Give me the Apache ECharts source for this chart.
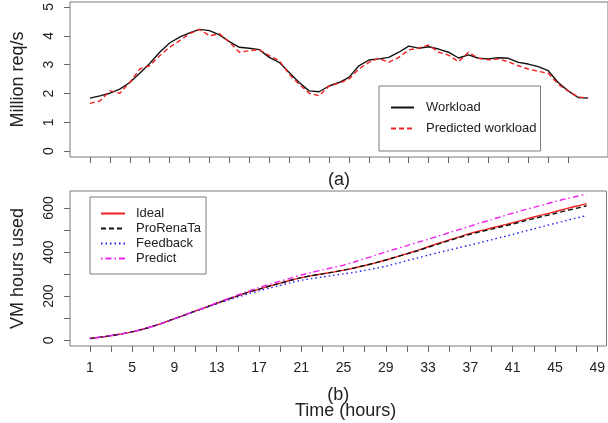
<!DOCTYPE html>
<html>
<head>
<meta charset="utf-8">
<script src="https://cdn.jsdelivr.net/npm/echarts@6/dist/echarts.min.js"></script>
<style>
html,body{margin:0;padding:0;background:#fff;}
#c{width:608px;height:423px;}
</style>
</head>
<body>
<div id="c"></div>
<script>
// ---- Panel (a): workload (million req/s) ----
var workloadSteps = [0,1,2,3,4,5,6,7,8,9,10,11,12,13,14,15,16,17,18,19,20,21,22,23,24,25,26,27,28,29,30,31,32,33,34,35,36,37,38,39,40,41,42,43,44,45,46,47,48,49,50];
var workload = [1.84,1.92,2.01,2.15,2.38,2.70,3.04,3.43,3.75,3.95,4.10,4.22,4.18,4.03,3.80,3.60,3.57,3.52,3.25,3.08,2.73,2.38,2.09,2.06,2.26,2.38,2.56,2.96,3.16,3.20,3.25,3.43,3.64,3.57,3.62,3.54,3.43,3.23,3.34,3.22,3.20,3.24,3.22,3.08,3.02,2.93,2.79,2.38,2.09,1.86,1.84];
var predictedWorkload = [1.66,1.74,2.09,2.01,2.38,2.85,2.96,3.31,3.60,3.83,4.07,4.22,4.00,4.07,3.78,3.43,3.48,3.52,3.31,3.14,2.67,2.32,2.01,1.92,2.26,2.36,2.50,2.85,3.08,3.22,3.08,3.25,3.51,3.57,3.68,3.43,3.33,3.10,3.43,3.22,3.17,3.20,3.10,2.96,2.85,2.77,2.70,2.32,2.09,1.88,1.84];
var topXTicks = [0,2,4,6,8,10,12,14,16,18,20,22,24,26,28,30,32,34,36,38,40,42,44,46,48];
var topYTicks = [0,1,2,3,4,5];

// ---- Panel (b): cumulative VM hours ----
var hours = [1,2,3,4,5,6,7,8,9,10,11,12,13,14,15,16,17,18,19,20,21,22,23,24,25,26,27,28,29,30,31,32,33,34,35,36,37,38,39,40,41,42,43,44,45,46,47,48];
var ideal = [8,14,21,29,38,50,64,80,98,115,133,150,168,185,202,218,232,246,259,272,284,293,301,309,318,328,339,351,364,378,393,408,424,440,455,470,485,497,509,521,533,546,559,571,583,596,608,620];
var proRenaTa = [8,14,21,29,38,50,64,80,98,115,133,150,168,185,202,218,232,246,259,272,284,293,301,309,318,328,339,351,364,378,392,406,422,437,452,467,481,493,504,516,527,540,552,564,575,587,598,610];
var feedback = [8,14,21,29,38,50,64,80,97,114,131,148,165,181,196,211,224,237,249,261,272,280,287,294,301,308,317,326,336,348,361,373,386,398,409,421,432,444,456,468,480,493,505,518,530,542,554,566];
var predict = [8,14,21,29,38,50,64,80,98,115,133,151,170,188,206,223,239,254,268,282,296,308,319,330,341,355,370,385,401,415,429,444,458,473,488,503,518,533,547,562,576,590,603,616,629,641,652,663];
var bottomXTicks = [1,3,5,7,9,11,13,15,17,19,21,23,25,27,29,31,33,35,37,39,41,43,45,47,49];
var bottomXLabels = [1,5,9,13,17,21,25,29,33,37,41,45,49];
var bottomYTicks = [0,100,200,300,400,500,600];
var bottomYLabels = [0,200,400,600];

function pairs(xs, ys){ return ys.map(function(v,i){ return [xs[i], v]; }); }

var FONT = '"Liberation Sans", Arial, Helvetica, sans-serif';
var tickColor = '#666';
var textColor = '#222';
var hiddenAxisLine = {show: false, onZero: false};

var chart = echarts.init(document.getElementById('c'), null, {renderer:'canvas'});
chart.setOption({
  animation: false,
  backgroundColor: '#fff',
  textStyle: {fontFamily: FONT},
  title: {
    text: 'Time (hours)', left: 295, top: 402, padding: 0,
    textStyle: {fontSize: 18, fontWeight: 'normal', color: textColor, fontFamily: FONT}
  },
  grid: [
    {left: 70, right: 0, top: 2, height: 155, show: true, borderColor: '#7a7a7a', borderWidth: 1, containLabel: false},
    {left: 70, right: 0, top: 191, height: 155, show: true, borderColor: '#7a7a7a', borderWidth: 1, containLabel: false}
  ],
  xAxis: [
    {type: 'value', gridIndex: 0, min: -2, max: 52,
     name: '(a)', nameLocation: 'middle', nameGap: 14,
     nameTextStyle: {fontSize: 18, color: textColor, fontFamily: FONT},
     axisLine: hiddenAxisLine, splitLine: {show: false},
     axisTick: {show: true, inside: false, length: 6, lineStyle: {color: tickColor}, customValues: topXTicks},
     axisLabel: {show: false}},
    {type: 'value', gridIndex: 1, min: -0.88, max: 49.88,
     name: '(b)', nameLocation: 'middle', nameGap: 40,
     nameTextStyle: {fontSize: 18, color: textColor, fontFamily: FONT},
     axisLine: hiddenAxisLine, splitLine: {show: false},
     axisTick: {show: true, inside: false, length: 6, lineStyle: {color: tickColor}, customValues: bottomXTicks},
     axisLabel: {show: true, margin: 15, fontSize: 14, color: textColor, fontFamily: FONT, customValues: bottomXLabels}}
  ],
  yAxis: [
    {type: 'value', gridIndex: 0, min: -0.2, max: 5.17,
     name: 'Million req/s', nameLocation: 'middle', nameGap: 43,
     nameTextStyle: {fontSize: 18, color: textColor, fontFamily: FONT},
     axisLine: hiddenAxisLine, splitLine: {show: false},
     axisTick: {show: true, inside: false, length: 6, lineStyle: {color: tickColor}, customValues: topYTicks},
     axisLabel: {show: true, rotate: 90, margin: 14, fontSize: 14, color: textColor, fontFamily: FONT, customValues: topYTicks}},
    {type: 'value', gridIndex: 1, min: -26, max: 677,
     name: 'VM hours used', nameLocation: 'middle', nameGap: 43,
     nameTextStyle: {fontSize: 18, color: textColor, fontFamily: FONT},
     axisLine: hiddenAxisLine, splitLine: {show: false},
     axisTick: {show: true, inside: false, length: 6, lineStyle: {color: tickColor}, customValues: bottomYTicks},
     axisLabel: {show: true, rotate: 90, margin: 14, fontSize: 14, color: textColor, fontFamily: FONT, customValues: bottomYLabels}}
  ],
  legend: [
    {orient: 'vertical', left: 379, top: 86, padding: [15, 4, 16, 11],
     borderColor: '#7a7a7a', borderWidth: 1, itemWidth: 23, itemHeight: 14, itemGap: 8,
     itemStyle: {opacity: 0, borderWidth: 0},
     textStyle: {fontSize: 13, color: textColor, fontFamily: FONT, padding: [0,0,0,7]},
     data: ['Workload', 'Predicted workload'], selectedMode: false},
    {orient: 'vertical', left: 90, top: 197, padding: [10, 5, 9, 10],
     borderColor: '#7a7a7a', borderWidth: 1, itemWidth: 24, itemHeight: 12, itemGap: 2,
     itemStyle: {opacity: 0, borderWidth: 0},
     textStyle: {fontSize: 13, color: textColor, fontFamily: FONT, padding: [0,0,0,6]},
     data: ['Ideal', 'ProRenaTa', 'Feedback', 'Predict'], selectedMode: false}
  ],
  series: [
    {name: 'Workload', type: 'line', xAxisIndex: 0, yAxisIndex: 0, symbol: 'none',
     data: pairs(workloadSteps, workload), lineStyle: {color: '#111', width: 1.4}, itemStyle: {color: '#111'}},
    {name: 'Predicted workload', type: 'line', xAxisIndex: 0, yAxisIndex: 0, symbol: 'none',
     data: pairs(workloadSteps, predictedWorkload), lineStyle: {color: '#f02020', width: 1.4, type: [5, 3]}, itemStyle: {color: '#f02020'}},
    {name: 'Ideal', type: 'line', xAxisIndex: 1, yAxisIndex: 1, symbol: 'none', smooth: 0.3,
     data: pairs(hours, ideal), lineStyle: {color: '#f02020', width: 1.4}, itemStyle: {color: '#f02020'}},
    {name: 'ProRenaTa', type: 'line', xAxisIndex: 1, yAxisIndex: 1, symbol: 'none', smooth: 0.3,
     data: pairs(hours, proRenaTa), lineStyle: {color: '#111', width: 1.4, type: [5, 3]}, itemStyle: {color: '#111'}},
    {name: 'Feedback', type: 'line', xAxisIndex: 1, yAxisIndex: 1, symbol: 'none', smooth: 0.3,
     data: pairs(hours, feedback), lineStyle: {color: '#2020f0', width: 1.4, type: [1.5, 3]}, itemStyle: {color: '#2020f0'}},
    {name: 'Predict', type: 'line', xAxisIndex: 1, yAxisIndex: 1, symbol: 'none', smooth: 0.3,
     data: pairs(hours, predict), lineStyle: {color: '#f020f0', width: 1.4, type: [1.5, 3, 6, 3]}, itemStyle: {color: '#f020f0'}}
  ]
});
</script>
</body>
</html>
